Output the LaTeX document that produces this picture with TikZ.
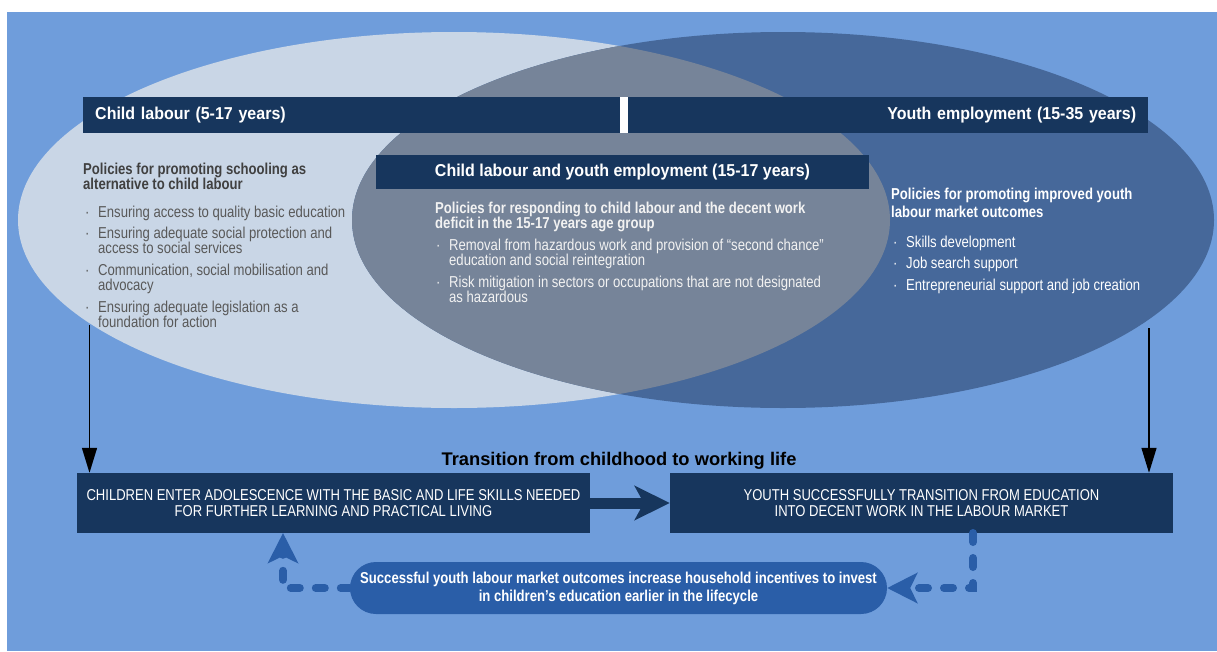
\documentclass[tikz,border=0pt]{standalone}
\usepackage{fontspec}
\setmainfont{Liberation Sans}
\newfontfamily\condfont{Liberation Sans}[FakeStretch=0.83]
\newfontfamily\barfont{Liberation Sans}[FakeStretch=0.93]
\usetikzlibrary{arrows.meta}
\definecolor{bgblue}{HTML}{6F9DDB}
\definecolor{paleblue}{HTML}{C9D6E6}
\definecolor{slateblue}{HTML}{46689A}
\definecolor{overlapgrey}{HTML}{768499}
\definecolor{darknavy}{HTML}{17365D}
\definecolor{pillblue}{HTML}{2A5EA8}
\definecolor{headgrey}{HTML}{404040}
\definecolor{textgrey}{HTML}{595959}
\definecolor{offwhite}{HTML}{F2F2F2}
\newcommand{\bodysize}{\fontsize{15.8}{15.5}\selectfont}
\newcommand{\bul}{\makebox[13pt][l]{·}}
\newcommand{\ind}{\hspace*{13pt}}

\begin{document}
\begin{tikzpicture}[x=1pt, y=-1pt,
    bar/.style={fill=darknavy, text=white, inner ysep=0pt, minimum height=36pt, font=\barfont\bfseries\fontsize{17.2}{20}\selectfont},
    stage/.style={fill=darknavy, text=white, align=center, inner sep=0pt, minimum height=60pt, font=\condfont\fontsize{15.7}{16}\selectfont},
    head/.style={anchor=north west, align=left, inner sep=0pt, font=\condfont\bfseries\bodysize},
    list/.style={anchor=north west, align=left, inner sep=0pt, font=\condfont\bodysize},
    loop/.style={pillblue, line width=8pt, line cap=round, dash pattern=on 9pt off 16pt, -{Stealth[length=30pt,width=30pt,inset=7pt]}}]
    \useasboundingbox (0,0) rectangle (1217,651);
    \fill[bgblue] (7,12) rectangle (1217,651);

    \fill[paleblue] (454,220) ellipse [x radius=436, y radius=188];
    \fill[slateblue] (783,220) ellipse [x radius=431, y radius=188];
    \begin{scope}
        \clip (454,220) ellipse [x radius=436, y radius=188];
        \fill[overlapgrey] (783,220) ellipse [x radius=431, y radius=188];
    \end{scope}

    \node[bar, anchor=west, text width=513pt, inner xsep=12pt, align=left] (clbar) at (83,115) {Child labour (5-17 years)};
    \node[bar, anchor=west, text width=496pt, inner xsep=12pt, align=right] (yebar) at (628,115) {Youth employment (15-35 years)};
    \fill[white] (clbar.north east) rectangle (yebar.south west);
    \node[bar, minimum width=493pt, minimum height=34pt] (bothbar) at (622.5,172) {Child labour and youth employment (15-17 years)};

    \node[head, text=headgrey] (clhead) at (83,162.5) {Policies for promoting schooling as\\alternative to child labour};
    \node[list, text=textgrey] (cllist) at (85,205.5) {\bul Ensuring access to quality basic education\\[5.5pt]\bul Ensuring adequate social protection and\\\ind access to social services\\[6pt]\bul Communication, social mobilisation and\\\ind advocacy\\[6pt]\bul Ensuring adequate legislation as a\\\ind foundation for action};

    \node[head, text=offwhite] (bothhead) at (435,201.5) {Policies for responding to child labour and the decent work\\deficit in the 15-17 years age group};
    \node[list, text=offwhite] (bothlist) at (436,238.5) {\bul Removal from hazardous work and provision of “second chance”\\\ind education and social reintegration\\[6pt]\bul Risk mitigation in sectors or occupations that are not designated\\\ind as hazardous};

    \node[head, text=white] (yehead) at (891,187.5) {Policies for promoting improved youth\\[2.5pt]labour market outcomes};
    \node[list, text=white] (yelist) at (893,235.5) {\bul Skills development\\[6pt]\bul Job search support\\[6pt]\bul Entrepreneurial support and job creation};

    \node[anchor=base, inner sep=0pt, font=\bfseries\fontsize{18.3}{20}\selectfont] (title) at (619,465) {Transition from childhood to working life};

    \node[stage, minimum width=513pt] (child) at (333.5,503) {CHILDREN ENTER ADOLESCENCE WITH THE BASIC AND LIFE SKILLS NEEDED\\FOR FURTHER LEARNING AND PRACTICAL LIVING};
    \node[stage, minimum width=503pt] (youth) at (921.5,503) {YOUTH SUCCESSFULLY TRANSITION FROM EDUCATION\\INTO DECENT WORK IN THE LABOUR MARKET};
    \node[fill=pillblue, text=white, align=center, inner sep=0pt, minimum width=537pt, minimum height=52pt, rounded corners=26pt, font=\condfont\bfseries\fontsize{15.8}{18}\selectfont] (incentive) at (618.5,588) {Successful youth labour market outcomes increase household incentives to invest\\in children’s education earlier in the lifecycle};

    \coordinate (clsrc) at (89.5,325);
    \coordinate (yesrc) at (1149,328);
    \coordinate (fbin) at (283,533);
    \coordinate (fbout) at (973,533);

    \draw[line width=1.4pt, -{Triangle[length=25pt,width=15pt]}] (clsrc) -- (clsrc |- child.north);
    \draw[line width=1.4pt, -{Triangle[length=25pt,width=15pt]}] (yesrc) -- (yesrc |- youth.north);
    \draw[darknavy, line width=11pt, -{Stealth[length=35pt,width=34pt,inset=9pt]}] (child.east) -- (youth.west);

    \draw[loop] (incentive.west) -| (fbin);
    \draw[loop] (fbout) |- (incentive.east);
\end{tikzpicture}
\end{document}
